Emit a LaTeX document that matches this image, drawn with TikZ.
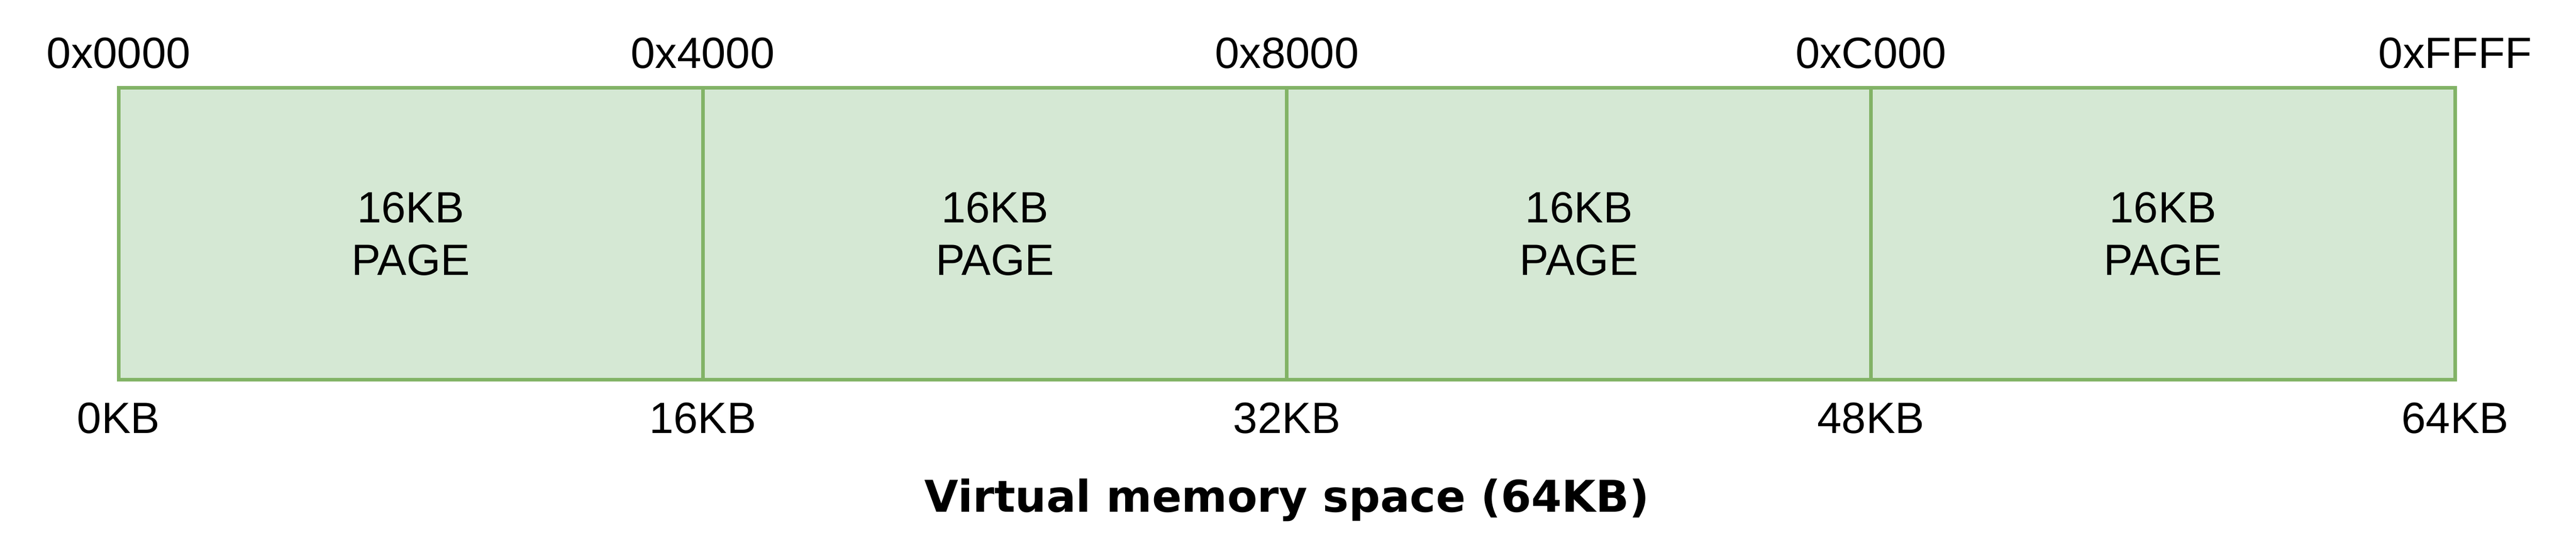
\documentclass[tikz,border=0pt]{standalone}
\usepackage{fontspec}
\setmainfont{Liberation Sans}
\newfontfamily\titlefont{DejaVu Sans}
\definecolor{pagefill}{HTML}{D5E8D4}
\definecolor{pageline}{HTML}{82B366}

\begin{document}
\begin{tikzpicture}[x=1pt,y=-1pt,
    page/.style={draw=pageline, fill=pagefill, line width=1pt, minimum width=160pt,
        minimum height=80pt, inner sep=0pt, align=center, font=\fontsize{12}{14.4}\selectfont},
    addr/.style={anchor=base, inner sep=0pt, font=\fontsize{12}{14.4}\selectfont}]
\useasboundingbox (0,0) rectangle (705.6,152);
\foreach \i in {0,...,3} {
    \node[page] (page\i) at (112.5+160*\i,64.1) {16KB\\PAGE};
}
\foreach \hex/\kb [count=\i from 0] in {0x0000/0KB,0x4000/16KB,0x8000/32KB,0xC000/48KB,0xFFFF/64KB} {
    \node[addr] (hex\i) at (32.5+160*\i,18.7) {\hex};
    \node[addr] (kb\i) at (32.5+160*\i,118.7) {\kb};
}
\node[addr, font=\fontsize{12}{14.4}\selectfont\titlefont\bfseries] (title) at (352.5,140.4) {Virtual memory space (64KB)};
\end{tikzpicture}
\end{document}
